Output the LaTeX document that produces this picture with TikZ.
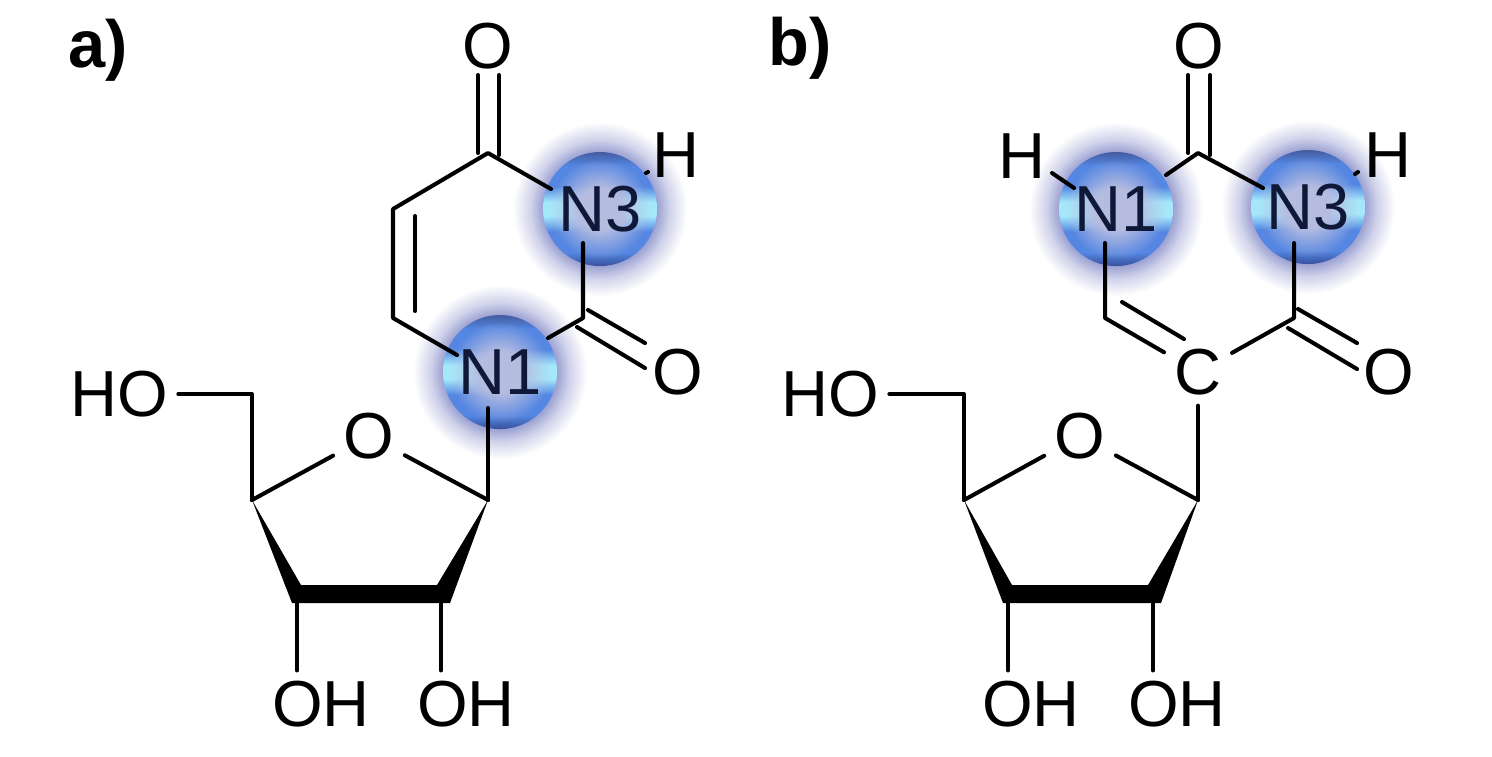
\documentclass[tikz,border=0pt]{standalone}
\usepackage{fontspec}
\setmainfont{Liberation Sans}
\usepackage{xcolor}
\usepackage{tikz}
\usetikzlibrary{fadings}
\definecolor{ballink}{RGB}{16,24,56}
\definecolor{ballmid}{RGB}{182,188,224}
\definecolor{ballglowa}{RGB}{150,156,208}
\definecolor{ballglowb}{RGB}{208,211,234}
\definecolor{ballbot}{RGB}{56,80,156}
\definecolor{balltop}{RGB}{68,92,160}
\definecolor{ballblue}{RGB}{84,134,226}
\definecolor{ballcyan}{RGB}{165,232,250}
\pgfdeclareverticalshading{ballfill}{100bp}{color(0bp)=(ballbot);color(25bp)=(ballbot);color(31bp)=(ballblue);color(40bp)=(ballblue);color(47bp)=(ballcyan);color(50bp)=(ballcyan);color(53bp)=(ballcyan);color(60bp)=(ballblue);color(69bp)=(ballblue);color(75bp)=(balltop);color(100bp)=(balltop)}
\pgfdeclareradialshading{glowfill}{\pgfpointorigin}{color(0bp)=(ballglowa);color(16bp)=(ballglowa);color(20bp)=(ballglowb);color(25bp)=(white);color(50bp)=(white)}
\pgfdeclareradialshading{ballmask}{\pgfpointorigin}{color(0bp)=(white);color(9bp)=(white);color(22bp)=(black);color(50bp)=(black)}
\pgfdeclarefading{ballfade}{\pgfuseshading{ballmask}}
\tikzset{
  bond/.style={line width=1.15pt},
  atomlabel/.style={font=\fontsize{18.5}{20}\selectfont,text=black,inner sep=2.8pt},
  paneltag/.style={font=\fontsize{19}{22}\selectfont\bfseries,text=black,inner sep=0pt},
  ballglow/.style={circle,minimum size=1.74cm,inner sep=0pt,shading=glowfill},
  atomball/.style={circle,minimum size=1.14cm,inner sep=0pt,shading=ballfill,
    font=\fontsize{18.5}{20}\selectfont,text=ballink,
    path picture={\fill[ballmid,path fading=ballfade,fit fading=true] (path picture bounding box.center) circle (57);}}
}
\begin{document}
\begin{tikzpicture}[line cap=round,line join=round,x=0.01cm,y=-0.01cm]
\useasboundingbox (0,0) rectangle (1492,756);
% panel a
\node[paneltag] (taga) at (98,50) {a)};
\node[ballglow] (glow3a) at (600,209) {};
\node[ballglow] (glow1a) at (500,372) {};
\node[atomball] (n3a) at (600,209) {N3};
\node[atomball] (n1a) at (500,372) {N1};
\node[atomlabel] (o4a) at (488,46) {O};
\node[atomlabel] (o2a) at (678,372) {O};
\node[atomlabel] (ha) at (676,155) {H};
\node[atomlabel] (hoa) at (119,394) {HO};
\node[atomlabel] (ora) at (369,436) {O};
\node[atomlabel] (oh3a) at (321,704) {OH};
\node[atomlabel] (oh2a) at (466,704) {OH};
\coordinate (c4a) at (488,153);
\coordinate (c5a) at (393,209);
\coordinate (c6a) at (393,318);
\coordinate (c2a) at (583,318);
\coordinate (in5a) at (415,216);
\coordinate (in6a) at (415,311);
\coordinate (end3a) at (551,189);
\coordinate (low3a) at (583,243);
\coordinate (end1a) at (548,338);
\coordinate (left1a) at (457,355);
\coordinate (dot1a) at (646,173);
\coordinate (dot2a) at (648,172);
\coordinate (d1a) at (478,153);
\coordinate (d2a) at (478,75);
\coordinate (d3a) at (499,155);
\coordinate (d4a) at (499,75);
\coordinate (e1a) at (577,327);
\coordinate (e2a) at (645,368);
\coordinate (e3a) at (588,310);
\coordinate (e4a) at (645,343);
\coordinate (low1a) at (488,408);
\coordinate (s1a) at (488,500);
\coordinate (s4a) at (252,500);
\coordinate (s5a) at (252,394);
\coordinate (s3a) at (297,603);
\coordinate (s2a) at (441,603);
\coordinate (w1a) at (292,603);
\coordinate (w2a) at (450,603);
\coordinate (w3a) at (437,585);
\coordinate (w4a) at (301,585);
\draw[bond] (end3a)--(c4a)--(c5a)--(c6a)--(left1a);
\draw[bond] (in5a)--(in6a);
\draw[bond] (low3a)--(c2a)--(end1a);
\draw[bond] (dot1a)--(dot2a);
\draw[bond] (d1a)--(d2a);
\draw[bond] (d3a)--(d4a);
\draw[bond] (e1a)--(e2a);
\draw[bond] (e3a)--(e4a);
\draw[bond] (low1a)--(s1a);
\draw[bond] (hoa.east)--(s5a)--(s4a);
\draw[bond] (s4a)--(ora);
\draw[bond] (s1a)--(ora);
\fill (s4a)--(w1a)--(w2a)--(s1a)--(w3a)--(w4a)--cycle;
\draw[bond] (s3a)--(s3a |- oh3a.north);
\draw[bond] (s2a)--(s2a |- oh2a.north);
% panel b
\node[paneltag] (tagb) at (800,48) {b)};
\node[ballglow] (glow1b) at (1116,209) {};
\node[ballglow] (glow3b) at (1308,207) {};
\node[atomball] (n1b) at (1116,209) {N1};
\node[atomball] (n3b) at (1308,207) {N3};
\node[atomlabel] (o4b) at (1199,46) {O};
\node[atomlabel] (o2b) at (1389,372) {O};
\node[atomlabel] (h1b) at (1022,156) {H};
\node[atomlabel] (h3b) at (1388,155) {H};
\node[atomlabel] (cb) at (1198,372) {C};
\node[atomlabel] (hob) at (830,394) {HO};
\node[atomlabel] (orb) at (1080,436) {O};
\node[atomlabel] (oh3b) at (1031,704) {OH};
\node[atomlabel] (oh2b) at (1177,704) {OH};
\coordinate (c4b) at (1198,153);
\coordinate (c6b) at (1105,318);
\coordinate (c2b) at (1294,318);
\coordinate (end1b) at (1166,175);
\coordinate (end3b) at (1263,188);
\coordinate (low1b) at (1105,243);
\coordinate (low3b) at (1294,243);
\coordinate (hb1) at (1052,173);
\coordinate (hb2) at (1074,188);
\coordinate (dot1b) at (1355,174);
\coordinate (dot2b) at (1358,172);
\coordinate (in6b) at (1122,302);
\coordinate (inc) at (1184,339);
\coordinate (d1b) at (1188,153);
\coordinate (d2b) at (1188,75);
\coordinate (d3b) at (1210,155);
\coordinate (d4b) at (1210,75);
\coordinate (e1b) at (1288,328);
\coordinate (e2b) at (1357,369);
\coordinate (e3b) at (1298,309);
\coordinate (e4b) at (1357,343);
\coordinate (s1b) at (1198,500);
\coordinate (s4b) at (964,500);
\coordinate (s5b) at (964,394);
\coordinate (s3b) at (1008,603);
\coordinate (s2b) at (1153,603);
\coordinate (w1b) at (1003,603);
\coordinate (w2b) at (1161,603);
\coordinate (w3b) at (1148,585);
\coordinate (w4b) at (1012,585);
\draw[bond] (end1b)--(c4b)--(end3b);
\draw[bond] (hb1)--(hb2);
\draw[bond] (dot1b)--(dot2b);
\draw[bond] (low1b)--(c6b)--(cb);
\draw[bond] (in6b)--(inc);
\draw[bond] (low3b)--(c2b)--(cb);
\draw[bond] (d1b)--(d2b);
\draw[bond] (d3b)--(d4b);
\draw[bond] (e1b)--(e2b);
\draw[bond] (e3b)--(e4b);
\draw[bond] (cb)--(s1b);
\draw[bond] (hob.east)--(s5b)--(s4b);
\draw[bond] (s4b)--(orb);
\draw[bond] (s1b)--(orb);
\fill (s4b)--(w1b)--(w2b)--(s1b)--(w3b)--(w4b)--cycle;
\draw[bond] (s3b)--(s3b |- oh3b.north);
\draw[bond] (s2b)--(s2b |- oh2b.north);
\end{tikzpicture}
\end{document}
